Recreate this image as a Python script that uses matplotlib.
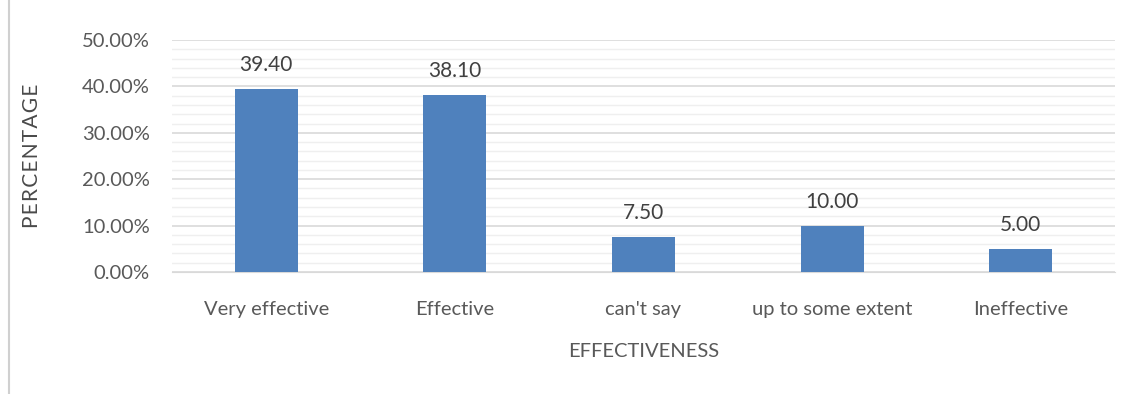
import matplotlib.pyplot as plt
import numpy as np
from matplotlib.ticker import MultipleLocator, FuncFormatter
from matplotlib.lines import Line2D

categories = ["Very effective", "Effective", "can't say", "up to some extent", "Ineffective"]
values = [39.40, 38.10, 7.50, 10.00, 5.00]
value_labels = ["39.40", "38.10", "7.50", "10.00", "5.00"]

plt.rcParams['font.family'] = ['Lato', 'DejaVu Sans']
text_color = "#595959"
bar_color = "#4F81BD"

fig = plt.figure(figsize=(11.35, 3.94), dpi=100)
ax = fig.add_axes([0.1515, 0.3096, 0.8309, 0.5889])

x = np.arange(len(categories))
ax.bar(x, [v / 100 for v in values], width=0.335, color=bar_color, zorder=3)

for xi, v, lab in zip(x, values, value_labels):
    ax.annotate(lab, (xi, v / 100), xytext=(0, 10), textcoords="offset points",
                ha="center", va="bottom", fontsize=15, color="#404040")

ax.set_xlim(-0.5, len(categories) - 0.5)
ax.set_ylim(0, 0.5)
ax.yaxis.set_major_locator(MultipleLocator(0.1))
ax.yaxis.set_minor_locator(MultipleLocator(0.02))
ax.yaxis.set_major_formatter(FuncFormatter(lambda v, p: f"{v * 100:.2f}%"))
ax.grid(axis="y", which="major", color="#d9d9d9", linewidth=1.2, zorder=0)
ax.grid(axis="y", which="minor", color="#efefef", linewidth=1.0, zorder=0)

ax.set_xticks(x)
ax.set_xticklabels(categories)
ax.tick_params(axis="both", which="both", length=0, labelsize=14.5, labelcolor=text_color)
ax.tick_params(axis="y", pad=16)
ax.tick_params(axis="x", pad=21)

for s in ["top", "right", "left"]:
    ax.spines[s].set_visible(False)
ax.spines["bottom"].set_color("#d9d9d9")

ax.set_ylabel("\u200a".join("PERCENTAGE"), fontsize=15, color="#4a4a4a")
ax.yaxis.set_label_coords(-0.138, 0.5)
ax.set_xlabel("EFFECTIVENESS", fontsize=14.5, color=text_color)
ax.xaxis.set_label_coords(0.5, -0.306)

# chart border at the left edge
fig.add_artist(Line2D([0.008, 0.008], [0.0, 1.0], color="#d0d0d0", linewidth=1.5))

fig.savefig("out.png", dpi=100, facecolor="white")
